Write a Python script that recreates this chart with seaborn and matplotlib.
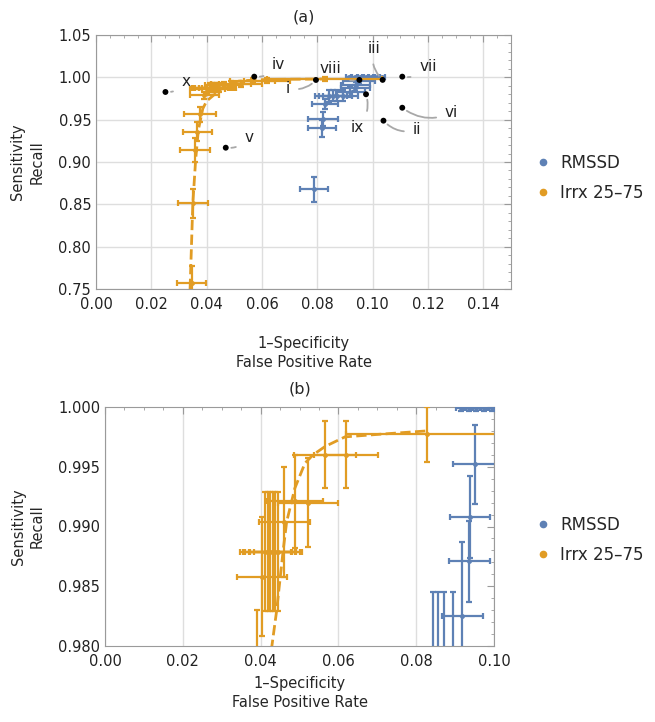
import matplotlib
matplotlib.use("Agg")
import matplotlib.pyplot as plt
import seaborn as sns
import numpy as np
from matplotlib.lines import Line2D
from matplotlib.ticker import MultipleLocator, FormatStrFormatter

# =========================
# Dados
# =========================
# Irrx 25-75 (laranja): centro, erro em x, erro em y
irrx_x = [0.0346, 0.0350, 0.0358, 0.0366, 0.0376, 0.0392, 0.0403, 0.0412, 0.0418,
          0.0424, 0.0431, 0.0437, 0.0444, 0.0461, 0.0488, 0.0523, 0.0566, 0.0619, 0.0827]
irrx_y = [0.7574, 0.8512, 0.9142, 0.9358, 0.9563, 0.9790, 0.9858, 0.9879, 0.9879,
          0.9879, 0.9879, 0.9879, 0.9879, 0.9904, 0.9921, 0.9920, 0.9960, 0.9960, 0.9977]
irrx_xerr = [0.0052, 0.0055, 0.0054, 0.0052, 0.0059, 0.0054, 0.0064, 0.0065, 0.0062,
             0.0065, 0.0060, 0.0063, 0.0062, 0.0066, 0.0072, 0.0077, 0.0080, 0.0083, 0.0208]
irrx_yerr = [0.0200, 0.0175, 0.0140, 0.0110, 0.0090, 0.0040, 0.0050, 0.0050, 0.0050,
             0.0050, 0.0050, 0.0050, 0.0050, 0.0046, 0.0039, 0.0037, 0.0028, 0.0028, 0.0023]

# curva tracejada (Irrx 25-75)
curva_x = [0.0340, 0.0350, 0.0360, 0.0370, 0.0386, 0.0400, 0.0429, 0.0441, 0.0458,
           0.0467, 0.0488, 0.0514, 0.0535, 0.0566, 0.0617, 0.0698, 0.0827]
curva_y = [0.750, 0.851, 0.902, 0.938, 0.963, 0.972, 0.980, 0.9829, 0.9880,
           0.9904, 0.9932, 0.9953, 0.9960, 0.9967, 0.9975, 0.9977, 0.9980]

# RMSSD (azul)
rmssd_x = [0.0788, 0.0816, 0.0822, 0.0828, 0.0842, 0.0857, 0.0872, 0.0894, 0.0919,
           0.0937, 0.0939, 0.0951, 0.0915, 0.0935, 0.0955, 0.0975, 0.0995, 0.1015, 0.1032]
rmssd_y = [0.8678, 0.9398, 0.9510, 0.9690, 0.9775, 0.9780, 0.9782, 0.9785, 0.9825,
           0.9871, 0.9908, 0.9952, 0.9999, 0.9999, 0.9999, 0.9999, 0.9999, 0.9999, 0.9999]
rmssd_xerr = [0.0052, 0.0050, 0.0054, 0.0047, 0.0050, 0.0050, 0.0052, 0.0053, 0.0053,
              0.0053, 0.0052, 0.0057, 0.0012, 0.0012, 0.0012, 0.0012, 0.0012, 0.0012, 0.0012]
rmssd_yerr = [0.0148, 0.0100, 0.0080, 0.0060, 0.0070, 0.0065, 0.0063, 0.0060, 0.0062,
              0.0034, 0.0034, 0.0033, 0.0002, 0.0002, 0.0002, 0.0002, 0.0002, 0.0002, 0.0002]

# pontos de referência (i-x)
ref_nomes = ["i", "ii", "iii", "iv", "v", "vi", "vii", "viii", "ix", "x"]
ref_x = [0.0795, 0.1039, 0.1036, 0.0572, 0.0469, 0.1107, 0.1107, 0.0952, 0.0976, 0.0251]
ref_y = [0.9969, 0.9488, 0.9970, 1.0008, 0.9169, 0.9641, 1.0008, 0.9969, 0.9800, 0.9827]
# posição dos rótulos
rot_x = [0.0694, 0.1160, 0.1005, 0.0660, 0.0552, 0.1285, 0.1200, 0.0848, 0.0946, 0.0325]
rot_y = [0.9874, 0.9378, 1.0346, 1.0150, 0.9292, 0.9580, 1.0126, 1.0099, 0.9413, 0.9949]

# =========================
# Estilo
# =========================
sns.set_theme(style="white")
plt.rcParams['font.family'] = ['DejaVu Sans']
AZUL = "#5E81B5"
LARANJA = "#E19C24"
GRELHA = "#DEDEDE"
MOLDURA = "#9A9A9A"

fig = plt.figure(figsize=(6.55, 7.22), dpi=100)
ax_a = fig.add_axes([96/655, 1-289/722, 415/655, 254/722])
ax_b = fig.add_axes([105/655, 1-646/722, 389/655, 239/722])


def desenha_series(ax):
    ax.errorbar(rmssd_x, rmssd_y, xerr=rmssd_xerr, yerr=rmssd_yerr, fmt='o', ms=2.5,
                color=AZUL, ecolor=AZUL, elinewidth=1.6, capsize=2.5, capthick=1.6, zorder=3)
    ax.errorbar(irrx_x, irrx_y, xerr=irrx_xerr, yerr=irrx_yerr, fmt='o', ms=2.5,
                color=LARANJA, ecolor=LARANJA, elinewidth=1.6, capsize=2.5, capthick=1.6, zorder=4)
    sns.lineplot(x=curva_x, y=curva_y, ax=ax, sort=False, color=LARANJA, lw=2,
                 dashes=(3, 2), linestyle='--', zorder=5)


def formata(ax, xmaj, xmin, ymaj, ymin, xfmt, yfmt, pad_x, grelha_y=True):
    ax.xaxis.set_major_locator(MultipleLocator(xmaj))
    ax.xaxis.set_minor_locator(MultipleLocator(xmin))
    ax.yaxis.set_major_locator(MultipleLocator(ymaj))
    ax.yaxis.set_minor_locator(MultipleLocator(ymin))
    ax.xaxis.set_major_formatter(FormatStrFormatter(xfmt))
    ax.yaxis.set_major_formatter(FormatStrFormatter(yfmt))
    ax.tick_params(which='both', direction='in', top=True, right=True, color=MOLDURA,
                   labelsize=10.5, labelcolor='#222222')
    ax.tick_params(which='major', length=5, width=0.8)
    ax.tick_params(which='minor', length=2.5, width=0.6)
    ax.tick_params(axis='x', pad=6)
    ax.grid(True, axis='x', which='major', color=GRELHA, lw=1, zorder=0)
    if grelha_y:
        ax.grid(True, axis='y', which='major', color=GRELHA, lw=1, zorder=0)
    for s in ax.spines.values():
        s.set_color(MOLDURA)
        s.set_linewidth(0.8)
    ax.set_axisbelow(True)
    ax.set_xlabel("1\u2013Specificity\nFalse Positive Rate", fontsize=10.5, labelpad=pad_x,
                  linespacing=1.35)
    ax.set_ylabel("Sensitivity\nRecall", fontsize=10.5, linespacing=1.35)


# =========================
# Painel (a)
# =========================
desenha_series(ax_a)
sns.scatterplot(x=ref_x, y=ref_y, ax=ax_a, color='black', s=18, edgecolor='none', zorder=7)
for nome, px, py, tx, ty in zip(ref_nomes, ref_x, ref_y, rot_x, rot_y):
    rad = -0.3 if tx >= px else 0.3
    ax_a.annotate(nome, xy=(px, py), xytext=(tx, ty), fontsize=11, color='#222222',
                  ha='center', va='center', zorder=8,
                  arrowprops=dict(arrowstyle='-', color='#A8A8A8', lw=1.3,
                                  shrinkA=4, shrinkB=4,
                                  connectionstyle=f"arc3,rad={rad}"))
ax_a.set_xlim(0, 0.15)
ax_a.set_ylim(0.75, 1.05)
formata(ax_a, 0.02, 0.005, 0.05, 0.01, '%.2f', '%.2f', pad_x=17)
ax_a.yaxis.set_label_coords(-0.125, 0.5)
ax_a.set_title("(a)", fontsize=11.5, pad=10)

# =========================
# Painel (b)
# =========================
desenha_series(ax_b)
ax_b.set_xlim(0, 0.10)
ax_b.set_ylim(0.98, 1.0)
formata(ax_b, 0.02, 0.005, 0.005, 0.001, '%.2f', '%.3f', pad_x=5, grelha_y=False)
ax_b.yaxis.set_label_coords(-0.155, 0.5)
ax_b.set_title("(b)", fontsize=11.5, pad=10)

# =========================
# Legendas
# =========================
handles = [Line2D([], [], marker='o', ls='none', color=AZUL, ms=4.5, label='RMSSD'),
           Line2D([], [], marker='o', ls='none', color=LARANJA, ms=4.5, label='Irrx 25\u201375')]
for ypos in [1-178/722, 1-540/722]:
    fig.legend(handles=handles, loc='center left', bbox_to_anchor=(518/655, ypos),
               frameon=False, fontsize=12, handletextpad=0.45, handlelength=1.2,
               labelspacing=0.75)

fig.savefig("out.png", dpi=100)
